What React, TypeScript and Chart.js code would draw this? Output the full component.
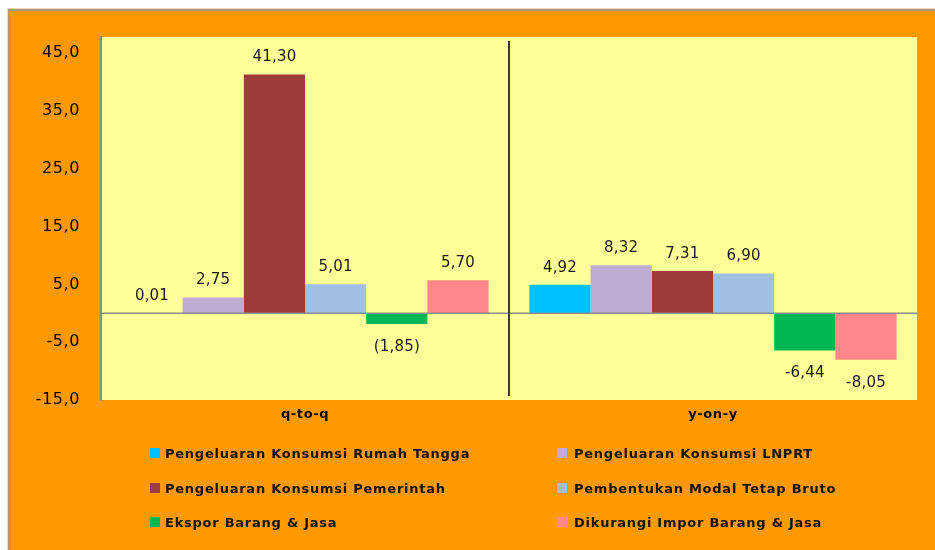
import React, { useEffect, useRef } from 'react';
import { Chart, registerables } from 'chart.js';

Chart.register(...registerables);

const categories = ['q-to-q', 'y-on-y'];
const seriesNames = [
  'Pengeluaran Konsumsi Rumah Tangga',
  'Pengeluaran Konsumsi LNPRT',
  'Pengeluaran Konsumsi Pemerintah',
  'Pembentukan Modal Tetap Bruto',
  'Ekspor Barang & Jasa',
  'Dikurangi Impor Barang & Jasa',
];
const seriesColors = ['#00BFFF', '#BEACD3', '#9E3B3B', '#A0BFE3', '#00B853', '#FF868A'];
const rumahTangga = [0.01, 4.92];
const lnprt = [2.75, 8.32];
const pemerintah = [41.3, 7.31];
const pmtb = [5.01, 6.9];
const ekspor = [-1.85, -6.44];
const impor = [5.7, -8.05];
const seriesValues = [rumahTangga, lnprt, pemerintah, pmtb, ekspor, impor];
const yTicks = [-15, -5, 5, 15, 25, 35, 45];
const yMin = -15;
const yMax = 47.8;
const negativeStyles = ['paren', 'minus'];

const fmt = (v: number, digits: number) => Math.abs(v).toFixed(digits).replace('.', ',');

const backgroundPlugin = {
  id: 'bg',
  beforeDraw(chart: any) {
    const { ctx, width, height, chartArea } = chart;
    ctx.save();
    ctx.fillStyle = '#ffffff';
    ctx.fillRect(0, 0, width, height);
    ctx.fillStyle = '#F6D8B4';
    ctx.fillRect(7, 8, width, height);
    ctx.fillStyle = '#A8988A';
    ctx.fillRect(8, 9, width, height);
    ctx.fillStyle = '#FF9900';
    ctx.fillRect(10, 11, width, height);
    ctx.fillStyle = '#FFFF99';
    ctx.fillRect(chartArea.left, chartArea.top, chartArea.right - chartArea.left, chartArea.bottom - chartArea.top);
    ctx.restore();
    ctx.letterSpacing = '0.6px';
  },
};

const overlayPlugin = {
  id: 'overlay',
  afterDatasetsDraw(chart: any) {
    const { ctx, chartArea } = chart;
    const xs = chart.scales.x;
    const ys = chart.scales.y;
    ctx.save();
    const y0 = ys.getPixelForValue(0);
    ctx.strokeStyle = '#8C8C8C';
    ctx.lineWidth = 1.5;
    ctx.beginPath();
    ctx.moveTo(chartArea.left, y0);
    ctx.lineTo(chartArea.right, y0);
    ctx.stroke();
    const xd = (xs.getPixelForValue(0) + xs.getPixelForValue(1)) / 2;
    ctx.strokeStyle = '#3A3A3A';
    ctx.lineWidth = 2;
    ctx.beginPath();
    ctx.moveTo(xd, chartArea.top + 4);
    ctx.lineTo(xd, chartArea.bottom - 4);
    ctx.stroke();
    ctx.font = '15px "DejaVu Sans"';
    ctx.letterSpacing = '0.2px';
    ctx.fillStyle = '#1A1A1A';
    ctx.textAlign = 'center';
    ctx.textBaseline = 'middle';
    chart.data.datasets.forEach((ds: any, di: number) => {
      const meta = chart.getDatasetMeta(di);
      meta.data.forEach((el: any, ci: number) => {
        const v = ds.data[ci];
        let text = fmt(v, 2);
        if (v < 0) text = negativeStyles[ci] === 'paren' ? '(' + text + ')' : '-' + text;
        const y = v >= 0 ? el.y - 17 : el.y + 23;
        ctx.fillText(text, el.x, y);
      });
    });
    ctx.restore();
  },
  afterDraw(chart: any) {
    const { ctx } = chart;
    const rowY = [455, 490, 524];
    const markerX = [150, 557];
    const textX = [165, 574];
    ctx.save();
    ctx.font = 'bold 13px "DejaVu Sans"';
    ctx.letterSpacing = '0.75px';
    ctx.textAlign = 'left';
    ctx.textBaseline = 'middle';
    chart.data.datasets.forEach((ds: any, i: number) => {
      const col = i % 2;
      const row = Math.floor(i / 2);
      ctx.fillStyle = ds.backgroundColor;
      ctx.fillRect(markerX[col], rowY[row] - 7, 10, 10);
      ctx.fillStyle = '#111111';
      ctx.fillText(ds.label, textX[col], rowY[row]);
    });
    ctx.restore();
  },
};

export default function App() {
  const ref = useRef<HTMLCanvasElement | null>(null);
  useEffect(() => {
    if (!ref.current) return;
    const chart = new Chart(ref.current, {
      type: 'bar',
      data: {
        labels: categories,
        datasets: seriesNames.map((name, i) => ({
          label: name,
          data: seriesValues[i],
          backgroundColor: seriesColors[i],
          borderWidth: 0,
          categoryPercentage: 0.9,
          barPercentage: 1.0,
        })),
      },
      options: {
        responsive: false,
        animation: false,
        devicePixelRatio: 1,
        layout: { padding: { left: 0, top: 37, right: 18, bottom: 0 } },
        plugins: { legend: { display: false }, tooltip: { enabled: false } },
        scales: {
          x: {
            grid: { display: false, drawTicks: false },
            border: { display: false },
            ticks: { font: { family: 'DejaVu Sans', size: 13, weight: 'bold' }, color: '#000', padding: 7 },
            afterFit: (s: any) => {
              s.height = 150;
            },
          },
          y: {
            min: yMin,
            max: yMax,
            afterBuildTicks: (s: any) => {
              s.ticks = yTicks.map((v) => ({ value: v }));
            },
            ticks: {
              callback: (v: any) => (v < 0 ? '-' : '') + fmt(Number(v), 1),
              font: { family: 'DejaVu Sans', size: 16 },
              color: '#000',
              padding: 21,
            },
            grid: { display: false, drawTicks: false },
            border: { display: true, color: '#8A8A8A', width: 2 },
            afterFit: (s: any) => {
              s.width = 101;
            },
          },
        },
      } as any,
      plugins: [backgroundPlugin, overlayPlugin],
    });
    return () => chart.destroy();
  }, []);
  return (
    <div style={{ position: 'fixed', left: 0, top: 0, width: 935, height: 550 }}>
      <canvas ref={ref} width={935} height={550} style={{ display: 'block' }} />
    </div>
  );
}
